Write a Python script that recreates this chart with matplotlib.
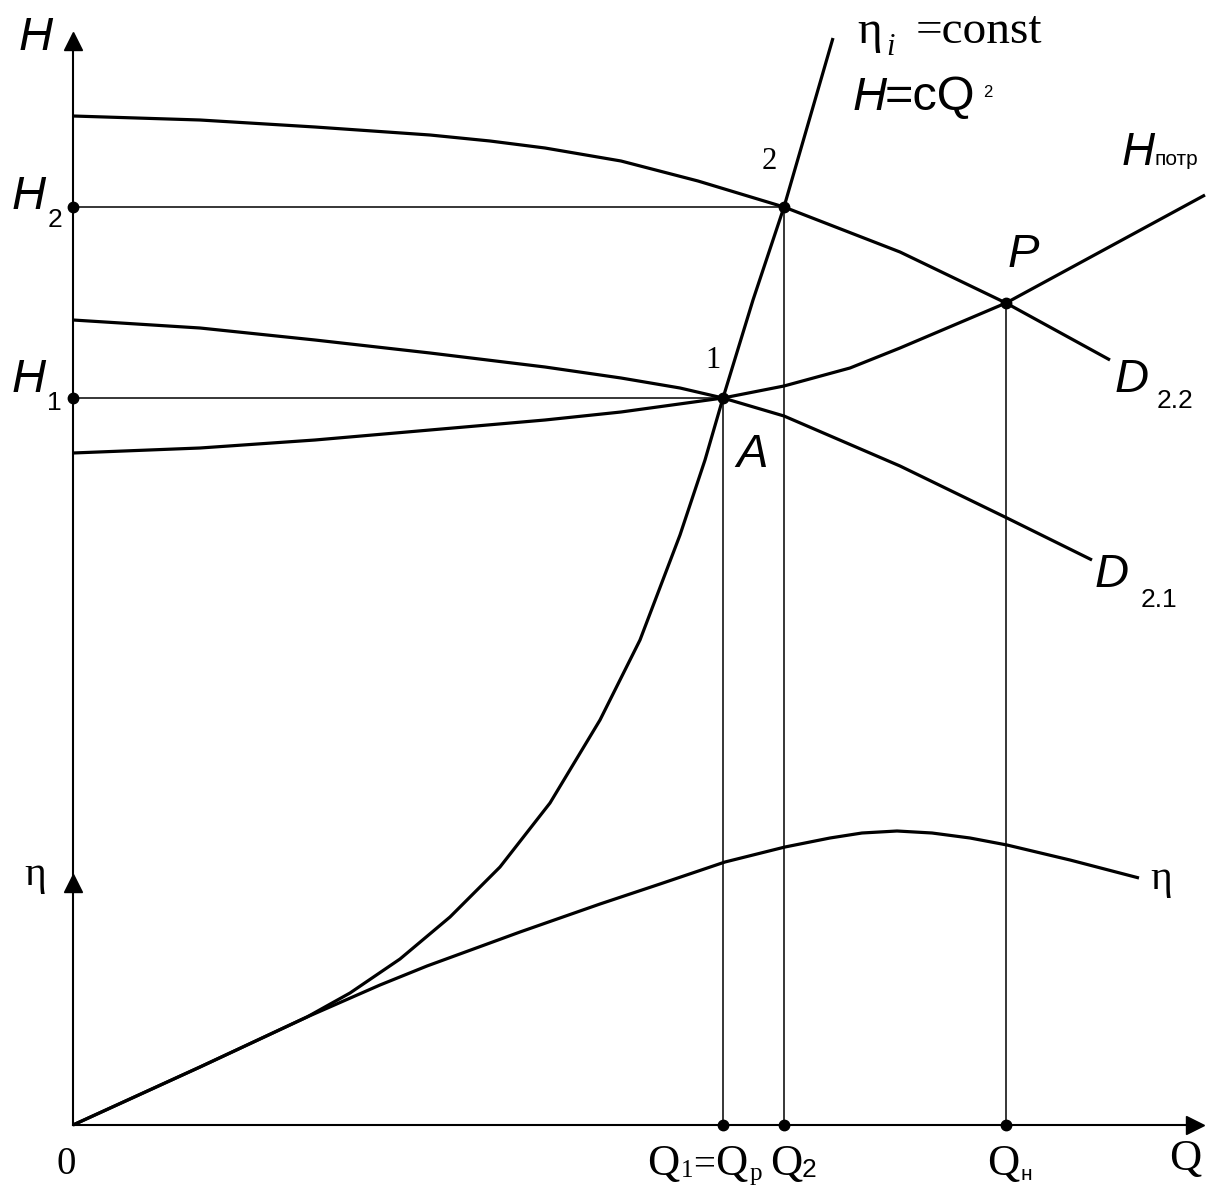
import matplotlib
matplotlib.use("Agg")
import matplotlib.pyplot as plt

# head curve of the pump, impeller D2.2
q_d22 = [0, 1.27, 2.42, 3.57, 4.17, 4.72, 5.48, 6.25, 7.11, 8.27, 9.33, 10.37]
h_d22 = [10.09, 10.05, 9.98, 9.90, 9.84, 9.77, 9.64, 9.44, 9.18, 8.73, 8.22, 7.65]

# head curve of the pump, impeller D2.1
q_d21 = [0, 1.27, 2.42, 3.57, 4.72, 5.48, 6.07, 6.50, 7.11, 8.27, 9.34, 10.19]
h_d21 = [8.05, 7.97, 7.85, 7.72, 7.58, 7.47, 7.37, 7.27, 7.09, 6.59, 6.07, 5.65]

# required head (system curve)
q_sys = [0, 1.27, 2.42, 3.57, 4.72, 5.48, 6.50, 7.11, 7.77, 8.27, 9.33, 11.32]
h_sys = [6.72, 6.77, 6.85, 6.95, 7.05, 7.13, 7.27, 7.39, 7.57, 7.77, 8.22, 9.30]

# similarity parabola eta_i = const, H = cQ^2
q_par = [0, 1.27, 2.34, 2.77, 3.27, 3.77, 4.27, 4.77, 5.27, 5.67, 6.07, 6.32,
         6.50, 6.80, 7.11, 7.60]
h_par = [0, 0.58, 1.08, 1.32, 1.66, 2.08, 2.58, 3.22, 4.05, 4.85, 5.90, 6.65,
         7.27, 8.25, 9.18, 10.87]

# efficiency curve
q_eta = [0, 1.27, 2.34, 3.07, 3.54, 4.47, 5.27, 5.87, 6.52, 7.12, 7.57, 7.89,
         8.24, 8.59, 8.97, 9.34, 9.97, 10.66]
h_eta = [0, 0.58, 1.08, 1.40, 1.59, 1.93, 2.21, 2.41, 2.63, 2.78, 2.87, 2.92,
         2.94, 2.92, 2.87, 2.80, 2.65, 2.47]

# operating points
q1, q2, qn = 6.50, 7.11, 9.33
h1, h2, hp = 7.27, 9.18, 8.22

SANS = "Liberation Sans"
SERIF = "Liberation Serif"
THICK = 2.3
THIN = 1.1

fig = plt.figure(figsize=(12.16, 11.85), dpi=100)
ax = fig.add_axes([0, 0, 1, 1])
ax.set_xlim(-0.73, 11.43)
ax.set_ylim(-0.60, 11.25)
ax.axis("off")

# axes with arrows
ax.plot([0, 0], [0, 10.9], color="k", lw=1.5)
ax.plot([0, 11.25], [0, 0], color="k", lw=1.5)
ax.plot(0, 10.84, marker="^", ms=13, color="k")
ax.plot(0, 2.42, marker="^", ms=13, color="k")
ax.plot(11.22, 0, marker=">", ms=13, color="k")

# guide lines
ax.plot([0, q2], [h2, h2], color="k", lw=THIN)
ax.plot([0, q1], [h1, h1], color="k", lw=THIN)
ax.plot([q1, q1], [0, h1], color="k", lw=THIN)
ax.plot([q2, q2], [0, h2], color="k", lw=THIN)
ax.plot([qn, qn], [0, hp], color="k", lw=THIN)

# curves
for q, h in [(q_d22, h_d22), (q_d21, h_d21), (q_sys, h_sys),
             (q_par, h_par), (q_eta, h_eta)]:
    ax.plot(q, h, color="k", lw=THICK, solid_capstyle="butt",
            solid_joinstyle="round")

# dots
ax.plot([0, 0, q1, q2, qn, q1, q2, qn], [h1, h2, 0, 0, 0, h1, h2, hp],
        "o", color="k", ms=7.5)

def txt(x, y, s, family=SANS, size=34, style="italic", **kw):
    ax.text(x, y, s, family=family, fontsize=size, style=style, **kw)

# left labels
txt(-0.37, 10.87, "H", ha="center", va="center")
txt(-0.44, 9.28, "H", ha="center", va="center")
txt(-0.18, 9.05, "2", size=19, style="normal", ha="center", va="center")
txt(-0.44, 7.45, "H", ha="center", va="center")
txt(-0.19, 7.22, "1", size=19, style="normal", ha="center", va="center")
txt(-0.38, 2.40, "η", family=SERIF, size=30, style="normal", ha="center", va="baseline")
txt(-0.07, -0.39, "0", family=SERIF, size=28, style="normal", ha="center", va="center")

# parabola label
txt(7.84, 10.82, "η", family=SERIF, size=34, style="normal", va="baseline")
txt(8.13, 10.70, "i", family=SERIF, size=22, va="baseline")
txt(8.43, 10.82, "=const", family=SERIF, size=34, style="normal", va="baseline")
txt(7.80, 10.15, "H", size=34, va="baseline")
txt(8.12, 10.15, "=cQ", size=35, style="normal", va="baseline")
txt(9.10, 10.28, "2", size=12, style="normal", va="baseline")

# system curve label
txt(10.49, 9.60, "H", size=33, va="baseline")
txt(10.82, 9.60, "потр", size=15, style="normal", va="baseline")

# point labels
txt(9.50, 8.58, "P", size=34, ha="center", va="baseline")
txt(6.79, 6.58, "A", size=34, ha="center", va="baseline")
txt(6.40, 7.64, "1", family=SERIF, size=22, style="normal", ha="center", va="center")
txt(6.96, 9.63, "2", family=SERIF, size=22, style="normal", ha="center", va="center")

# impeller labels
txt(10.42, 7.33, "D", size=34, va="baseline")
txt(10.84, 7.17, "2.2", size=19, style="normal", va="baseline")
txt(10.22, 5.38, "D", size=34, va="baseline")
txt(10.68, 5.18, "2.1", size=19, style="normal", va="baseline")

# efficiency label
txt(10.77, 2.36, "η", family=SERIF, size=30, style="normal", va="baseline")

# flow labels
txt(5.74, -0.50, "Q", family=SERIF, size=32, style="normal", va="baseline")
txt(6.08, -0.52, "1", family=SERIF, size=18, style="normal", va="baseline")
txt(6.20, -0.50, "=", family=SERIF, size=28, style="normal", va="baseline")
txt(6.42, -0.50, "Q", family=SERIF, size=32, style="normal", va="baseline")
txt(6.77, -0.55, "р", family=SERIF, size=18, style="normal", va="baseline")
txt(6.97, -0.50, "Q", family=SERIF, size=32, style="normal", va="baseline")
txt(7.29, -0.52, "2", family=SANS, size=19, style="normal", va="baseline")
txt(9.14, -0.50, "Q", family=SERIF, size=32, style="normal", va="baseline")
txt(9.48, -0.55, "н", family=SANS, size=15, style="normal", va="baseline")
txt(10.96, -0.45, "Q", family=SERIF, size=32, style="normal", va="baseline")

fig.savefig("out.png", dpi=100, facecolor="white")
